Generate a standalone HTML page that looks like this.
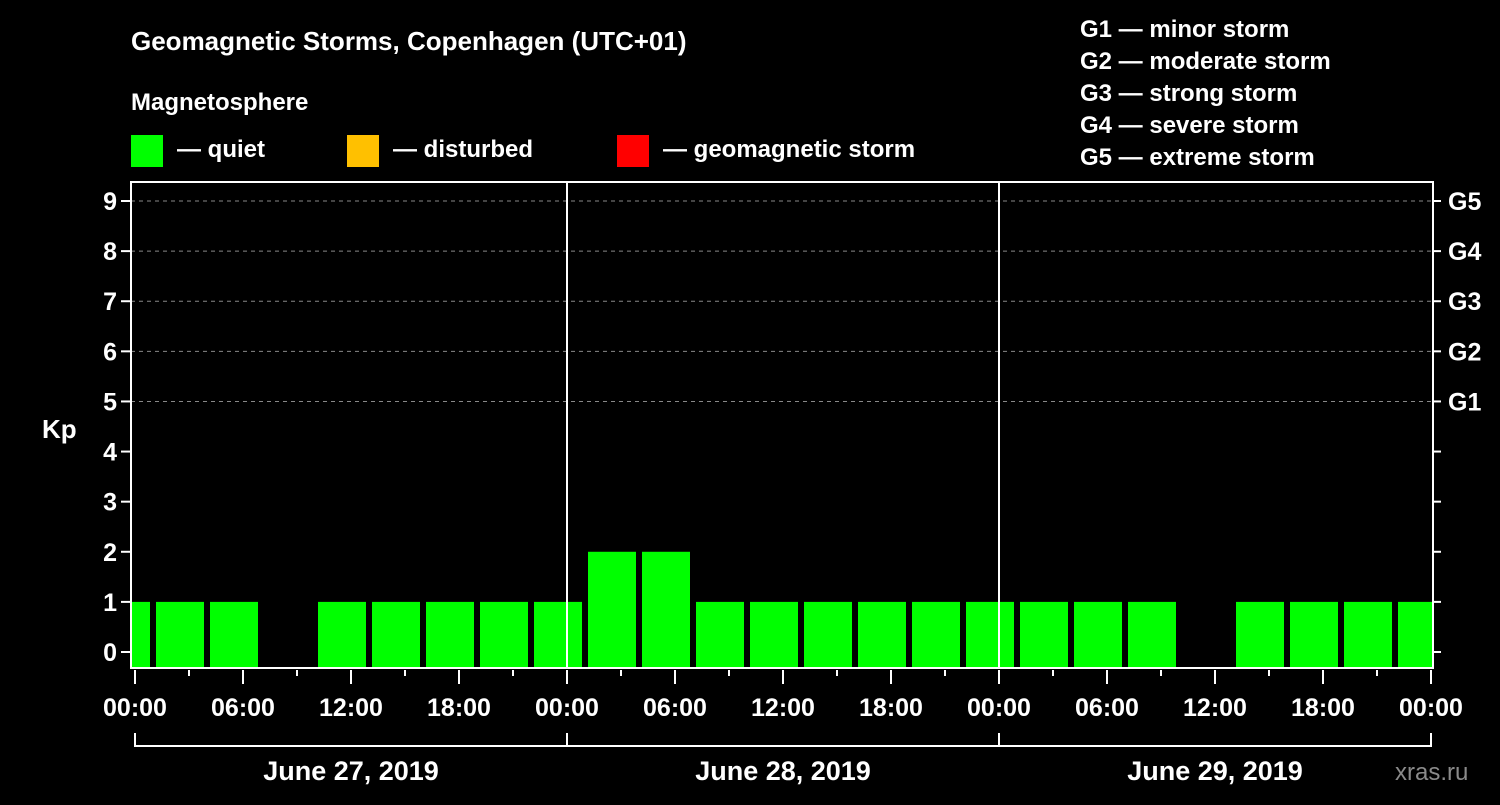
<!DOCTYPE html>
<html><head><meta charset="utf-8"><style>
body{margin:0;background:#000;}
svg text{font-family:"Liberation Sans",Arial,sans-serif;font-weight:bold;fill:#fff;}
</style></head><body>
<svg id="c" width="1500" height="800" viewBox="0 0 1500 800">
<rect width="1500" height="800" fill="#000"/>
<text x="131" y="50" font-size="26">Geomagnetic Storms, Copenhagen (UTC+01)</text>
<text x="131" y="110" font-size="24">Magnetosphere</text>
<g><rect x="131" y="135" width="32" height="32" fill="#00ff00"/><text x="177" y="157" font-size="24">— quiet</text></g>
<g><rect x="347" y="135" width="32" height="32" fill="#ffc000"/><text x="393" y="157" font-size="24">— disturbed</text></g>
<g><rect x="617" y="135" width="32" height="32" fill="#ff0000"/><text x="663" y="157" font-size="24">— geomagnetic storm</text></g>
<g font-size="24">
<text x="1080" y="37">G1 — minor storm</text>
<text x="1080" y="69">G2 — moderate storm</text>
<text x="1080" y="101">G3 — strong storm</text>
<text x="1080" y="133">G4 — severe storm</text>
<text x="1080" y="165">G5 — extreme storm</text>
</g>
<text x="42" y="438" font-size="26">Kp</text>
<text x="1395" y="780" font-size="24" fill="#888" style="fill:#8a8a8a;font-weight:normal">xras.ru</text>
<g id="plot"></g>
</svg>
<script>
const kpValues = [1, 1,1,0,1,1,1,1,1, 2,2,1,1,1,1,1,1, 1,1,1,0,1,1,1,1];
const yTicks = [0,1,2,3,4,5,6,7,8,9];
const gLabels = ["G1","G2","G3","G4","G5"];
const xTickLabels = ["00:00","06:00","12:00","18:00","00:00","06:00","12:00","18:00","00:00","06:00","12:00","18:00","00:00"];
const dayLabels = ["June 27, 2019","June 28, 2019","June 29, 2019"];

const NS="http://www.w3.org/2000/svg";
const L=131,R=1433,T=182,B=668,X0=135,PX_H=18;
const xh=h=>X0+h*PX_H;
const yk=v=>652-v*(451/9);
const g=document.getElementById('plot');
function mk(t,a){const e=document.createElementNS(NS,t);for(const k in a)e.setAttribute(k,a[k]);g.appendChild(e);return e;}
// grid
for(let v=5;v<=9;v++){const e=mk('line',{x1:L,x2:R,y1:yk(v),y2:yk(v),stroke:'#888','stroke-dasharray':'4,4','stroke-width':1});

}
// bars: slots start at hour -2 then every 3h
const clip=mk('clipPath',{id:'pc'});const cr=document.createElementNS(NS,'rect');
cr.setAttribute('x',L+1);cr.setAttribute('y',T);cr.setAttribute('width',R-L-2);cr.setAttribute('height',B-T);clip.appendChild(cr);
const bg=mk('g',{'clip-path':'url(#pc)'});
kpValues.forEach((v,i)=>{if(v<=0)return;const s=xh(-2+3*i);
const r=document.createElementNS(NS,'rect');
r.setAttribute('x',s+3);r.setAttribute('width',48);r.setAttribute('y',yk(v));r.setAttribute('height',B-yk(v));
r.setAttribute('fill',v>=5?'#ff0000':v>=4?'#ffc000':'#00ff00');


bg.appendChild(r);});
// day separators
[1,2].forEach(d=>{const e=mk('line',{x1:xh(24*d),x2:xh(24*d),y1:T,y2:B,stroke:'#fff','stroke-width':2});

});
// frame
const f=mk('rect',{x:L,y:T,width:R-L,height:B-T,fill:'none',stroke:'#fff','stroke-width':2});


// y ticks
yTicks.forEach(v=>{mk('line',{x1:L-10,x2:L,y1:yk(v),y2:yk(v),stroke:'#fff','stroke-width':2});
mk('line',{x1:R,x2:R+8,y1:yk(v),y2:yk(v),stroke:'#fff','stroke-width':2});
const t=mk('text',{x:L-14,y:yk(v)+9,'text-anchor':'end','font-size':25});t.textContent=v;

});
gLabels.forEach((s,i)=>{const t=mk('text',{x:1448,y:yk(5+i)+9,'font-size':25});t.textContent=s;

});
// x ticks
for(let h=0;h<=72;h+=3){const major=h%6===0;mk('line',{x1:xh(h),x2:xh(h),y1:B+2,y2:B+(major?16:8),stroke:'#fff','stroke-width':2});}
xTickLabels.forEach((s,i)=>{const t=mk('text',{x:xh(6*i),y:716,'text-anchor':'middle','font-size':25});t.textContent=s;

});
// day bracket
mk('line',{x1:xh(0),x2:xh(72),y1:746,y2:746,stroke:'#fff','stroke-width':2});
for(let d=0;d<=3;d++)mk('line',{x1:xh(24*d),x2:xh(24*d),y1:733,y2:747,stroke:'#fff','stroke-width':2});
dayLabels.forEach((s,i)=>{const t=mk('text',{x:xh(24*i+12),y:780,'text-anchor':'middle','font-size':27});t.textContent=s;

});
</script>
</body></html>
